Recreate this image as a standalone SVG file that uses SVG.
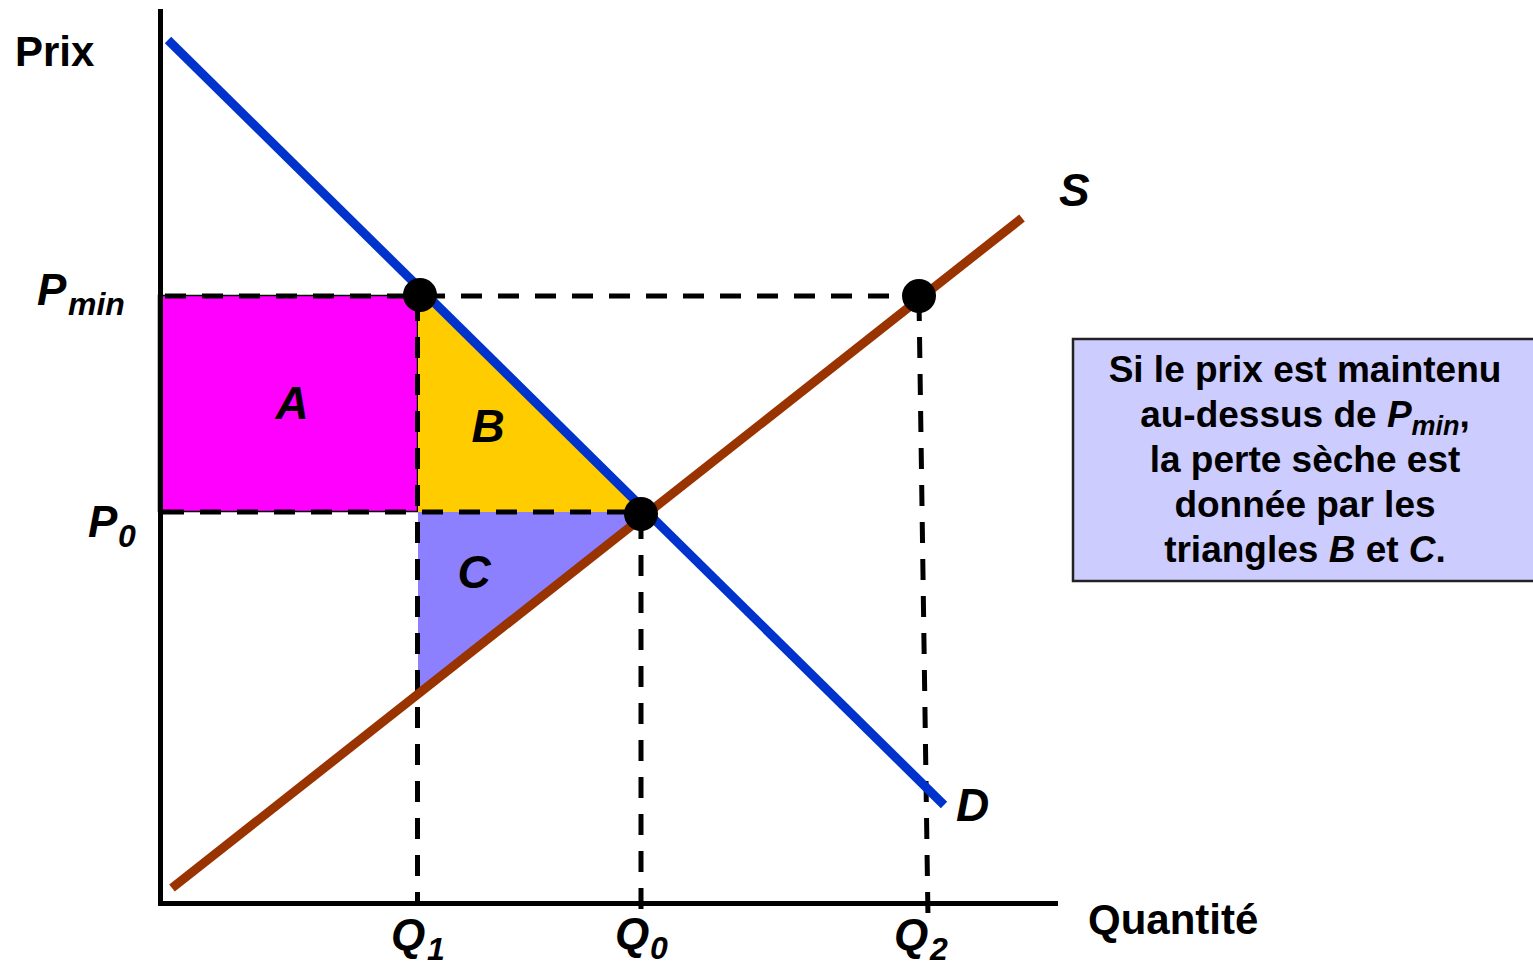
<svg xmlns="http://www.w3.org/2000/svg" width="1533" height="967" viewBox="0 0 1533 967">
<style>
.ax{stroke:#000;stroke-width:5;fill:none}
.dash{stroke:#000;stroke-width:5;fill:none;stroke-dasharray:21 16}
.t{font-family:"Liberation Sans",Arial,sans-serif;font-weight:bold;fill:#000}
.i{font-style:italic}
.big{font-size:46px}
.sub{font-size:32px}
.bx{font-size:37px}
.dot{fill:#000}
</style>
<rect width="1533" height="967" fill="#fff"/>
<g id="areas">
<rect id="area-A" x="158.5" y="295.5" width="259" height="216" fill="#FF00FF" stroke="#000" stroke-width="1.5"/>
<polygon id="area-B" points="418,296 428,296 647,512 418,512" fill="#FFCC00"/>
<polygon id="area-C" points="418,512 645,512 418,690" fill="#8C80FF"/>
</g>
<g id="connectors">
<line class="dash" x1="165" y1="296" x2="919" y2="296"/>
<line class="dash" x1="163" y1="512" x2="641" y2="512"/>
<line class="dash" x1="417.5" y1="300" x2="417.5" y2="903"/>
<line class="dash" x1="641" y1="518" x2="641" y2="914"/>
<line class="dash" x1="919" y1="300" x2="928" y2="918"/>
</g>
<g id="axes">
<line class="ax" x1="160.5" y1="9" x2="160.5" y2="906"/>
<line class="ax" x1="158" y1="903.5" x2="1058" y2="903.5"/>
</g>
<g id="curves">
<line id="demand" x1="168" y1="40" x2="944" y2="805" stroke="#0033CC" stroke-width="9"/>
<line id="supply" x1="172" y1="888" x2="1022" y2="218" stroke="#993300" stroke-width="9"/>
</g>
<g id="points">
<circle class="dot" cx="420" cy="295" r="17"/>
<circle class="dot" cx="641" cy="514" r="17"/>
<circle class="dot" cx="919" cy="296" r="17"/>
</g>
<g id="labels">
<text class="t" x="15" y="66" font-size="42">Prix</text>
<text class="t" x="1088" y="934" font-size="42">Quantité</text>
<text class="t i" x="37" y="305" font-size="44">P<tspan class="sub" x="68" y="315">min</tspan></text>
<text class="t i" x="88" y="537" font-size="44">P<tspan class="sub" x="118" y="547">0</tspan></text>
<text class="t i big" x="292" y="419" text-anchor="middle">A</text>
<text class="t i big" x="488" y="442" text-anchor="middle">B</text>
<text class="t i big" x="474" y="588" text-anchor="middle">C</text>
<text class="t i big" x="1059" y="206">S</text>
<text class="t i big" x="956" y="821">D</text>
<text class="t i" x="391" y="950" font-size="44">Q<tspan class="sub" x="427" y="960">1</tspan></text>
<text class="t i" x="615" y="949" font-size="44">Q<tspan class="sub" x="650" y="959">0</tspan></text>
<text class="t i" x="894" y="950" font-size="44">Q<tspan class="sub" x="930" y="960">2</tspan></text>
</g>
<g id="note">
<rect x="1073" y="339" width="470" height="242" fill="#CCCCFF" stroke="#222" stroke-width="2.5"/>
<text class="t bx" x="1305" y="382" text-anchor="middle">Si le prix est maintenu</text>
<text class="t bx" x="1305" y="427" text-anchor="middle">au-dessus de <tspan class="i">P</tspan><tspan class="i" font-size="27px" dy="8">min</tspan><tspan dy="-8">,</tspan></text>
<text class="t bx" x="1305" y="472" text-anchor="middle">la perte sèche est</text>
<text class="t bx" x="1305" y="517" text-anchor="middle">donnée par les</text>
<text class="t bx" x="1305" y="562" text-anchor="middle">triangles <tspan class="i">B</tspan> et <tspan class="i">C</tspan>.</text>
</g>
</svg>
